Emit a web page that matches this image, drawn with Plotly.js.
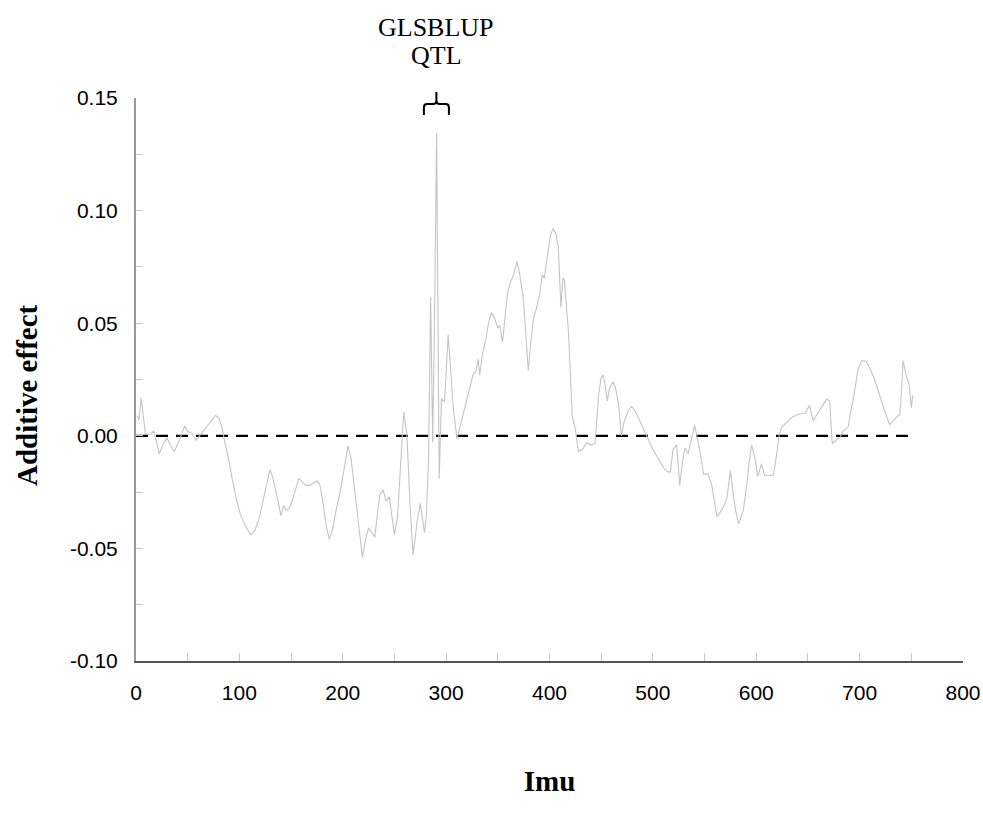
<!DOCTYPE html>
<html>
<head>
<meta charset="utf-8">
<script src="https://cdn.plot.ly/plotly-3.0.1.min.js"></script>
<style>html,body{margin:0;padding:0;background:#fff;}#chart{width:983px;height:827px;}</style>
</head>
<body>
<div id="chart"></div>
<script>
// Position along the chromosome (Imu) and additive effect
const imu = [1,3,5,7,9,13,17,20,22.5,26,30,33,37,42,47,50,54,58,63,68,73,77,80,83,86,89,93,97,101,106,111,115,119,123,127,129.5,132,135,138,140,143,145,148,151,154,157.5,160,164,168,172,175,178,181,184,187,190,194,198,202,205,208,211,214,217,219,222,225,228,231,234,236,239,242,245,248,250,253,256,259,262,265,268,270,272,275,277,279,281,283,285,287,289,290.8,292,293.3,295.5,298.5,302,304.5,307,310.5,313,316.5,320,323,326,329,331,332.5,335,338,341,344,347,350,352,354.5,357,359.5,362,365,368.5,371,374.5,377,379.5,382,384.5,387,390.5,393,395,398,401,403.5,406,408.5,411,413,414.5,418.5,420.5,422,425,428,432,436,440,444,445.5,447.5,450,452,454,456,458,461.5,464,467,469.5,472,476,479.5,484,489,494,500,505,510,514.5,517,519.5,523,526,528.5,531,534,537,540.5,543,546,549,553.5,557,559.5,562,566.5,569,571.5,575,577.5,580,583,587.5,591,593,595.5,598.5,601.5,605,608,612,616.5,619.5,622,624.5,629,634,638,642,647,651.5,655,660,664,668,671,673.5,677,681,684,687,689,691,694,698.5,702,706.5,710,714.5,718,721,725,729,734,739,740.5,742,745,748,750,751.5];
const effect = [0.009,0.007,0.017,0.010,0.001,0.0005,0.002,-0.003,-0.008,-0.004,-0.001,-0.004,-0.007,-0.002,0.0045,0.002,0.001,-0.002,0.001,0.004,0.007,0.009,0.008,0.004,-0.003,-0.009,-0.019,-0.028,-0.035,-0.040,-0.044,-0.042,-0.037,-0.028,-0.019,-0.015,-0.018,-0.024,-0.030,-0.0355,-0.031,-0.033,-0.0325,-0.029,-0.024,-0.019,-0.020,-0.022,-0.022,-0.021,-0.020,-0.022,-0.030,-0.040,-0.046,-0.042,-0.032,-0.024,-0.013,-0.0045,-0.010,-0.022,-0.035,-0.048,-0.054,-0.046,-0.041,-0.043,-0.045,-0.033,-0.026,-0.024,-0.029,-0.027,-0.036,-0.044,-0.036,-0.012,0.0105,0.001,-0.030,-0.053,-0.044,-0.038,-0.030,-0.036,-0.043,-0.035,-0.010,0.0615,-0.003,0.060,0.1345,0.060,-0.019,0.0165,0.015,0.045,0.030,0.012,-0.0015,0.003,0.009,0.016,0.022,0.027,0.029,0.034,0.027,0.036,0.042,0.050,0.0548,0.052,0.048,0.049,0.0415,0.052,0.0635,0.068,0.071,0.0775,0.072,0.062,0.045,0.029,0.042,0.052,0.056,0.063,0.0715,0.070,0.080,0.089,0.092,0.090,0.084,0.057,0.070,0.069,0.045,0.020,0.0085,0.003,-0.007,-0.006,-0.003,-0.004,-0.0035,0.005,0.018,0.026,0.027,0.022,0.0155,0.021,0.024,0.021,0.013,0.000,0.006,0.011,0.013,0.010,0.005,0.000,-0.006,-0.010,-0.014,-0.016,-0.016,-0.006,-0.004,-0.022,-0.012,-0.0055,-0.008,-0.002,0.0045,-0.001,-0.008,-0.017,-0.017,-0.022,-0.030,-0.036,-0.033,-0.031,-0.028,-0.0155,-0.025,-0.033,-0.039,-0.033,-0.021,-0.012,-0.004,-0.0095,-0.018,-0.0125,-0.0175,-0.0175,-0.0175,-0.009,0.000,0.0038,0.006,0.008,0.009,0.0097,0.010,0.0134,0.0067,0.0104,0.013,0.0163,0.0156,-0.0035,-0.002,-0.0007,0.002,0.003,0.004,0.010,0.0165,0.0297,0.0334,0.033,0.030,0.025,0.020,0.015,0.010,0.005,0.0075,0.0097,0.020,0.0334,0.027,0.0225,0.0125,0.018];
// Zero reference line
const refX = [0, 750];
const refY = [0, 0];
// Tick labels
const xTickVals = [0,100,200,300,400,500,600,700,800];
const yTickVals = [-0.10,-0.05,0.00,0.05,0.10,0.15];
const yTickText = ['-0.10','-0.05','0.00','0.05','0.10','0.15'];
// QTL bracket span (Imu)
const qtlSpan = [278.5, 290.6, 302.7];

const xr = [0, 800];
const px = v => (v - xr[0]) / (xr[1] - xr[0]);
const [qL, qC, qR] = qtlSpan.map(px);
const yb = 0.9698, yh = 0.9893, yt = 1.0107, c = 0.004;
const bracePath = `M ${qL} ${yb} L ${qL} ${yh - 0.006} Q ${qL} ${yh} ${qL + c} ${yh} L ${qC - c} ${yh} Q ${qC} ${yh} ${qC} ${yh + 0.006} L ${qC} ${yt} M ${qC} ${yh + 0.006} Q ${qC} ${yh} ${qC + c} ${yh} L ${qR - c} ${yh} Q ${qR} ${yh} ${qR} ${yh - 0.006} L ${qR} ${yb}`;

const traces = [
  {x: refX, y: refY, mode: 'lines', line: {color: '#000', width: 2.2, dash: '12px,8px'}, hoverinfo: 'skip', showlegend: false},
  {x: imu, y: effect, mode: 'lines', line: {color: '#c4c4c4', width: 1.1}, showlegend: false}
];

const tickFont = {family: 'Liberation Sans Narrow, Arial Narrow, Liberation Sans, sans-serif', size: 21, color: '#000'};
const serif = 'Liberation Serif, Times New Roman, serif';
const layout = {
  width: 983, height: 827,
  margin: {l: 136, r: 20, t: 98, b: 166},
  paper_bgcolor: '#fff', plot_bgcolor: '#fff',
  showlegend: false,
  xaxis: {
    range: xr, tickmode: 'array', tickvals: xTickVals,
    ticks: 'inside', ticklen: 8, tickcolor: '#c8c8c8', tickwidth: 1,
    minor: {dtick: 50, tick0: 0, ticks: 'inside', ticklen: 8, tickcolor: '#c8c8c8', showgrid: false},
    showline: true, linecolor: '#555', linewidth: 1.5,
    showgrid: false, zeroline: false, tickfont: tickFont, ticklabelstandoff: 12,
    title: {text: 'Imu', font: {family: serif, size: 29, color: '#000', weight: 'bold'}, standoff: 68}
  },
  yaxis: {
    range: [-0.1, 0.15], tickmode: 'array', tickvals: yTickVals, ticktext: yTickText,
    ticks: 'inside', ticklen: 7, tickcolor: '#c8c8c8', tickwidth: 1,
    minor: {dtick: 0.025, tick0: 0, ticks: 'inside', ticklen: 7, tickcolor: '#c8c8c8', showgrid: false},
    showline: true, linecolor: '#999', linewidth: 2,
    showgrid: false, zeroline: false, tickfont: tickFont, ticklabelstandoff: 12
  },
  shapes: [
    {type: 'path', xref: 'paper', yref: 'paper', path: bracePath, line: {color: '#000', width: 2}}
  ],
  annotations: [
    {xref: 'paper', yref: 'paper', x: -0.1318, y: 0.4725, xanchor: 'center', yanchor: 'middle', showarrow: false,
     textangle: -90, text: 'Additive effect', font: {family: serif, size: 29, color: '#000', weight: 'bold'}},
    {xref: 'paper', yref: 'paper', x: qC, y: 1.126, xanchor: 'center', yanchor: 'middle', showarrow: false,
     text: 'GLSBLUP', font: {family: serif, size: 26, color: '#000'}},
    {xref: 'paper', yref: 'paper', x: qC, y: 1.076, xanchor: 'center', yanchor: 'middle', showarrow: false,
     text: 'QTL', font: {family: serif, size: 26, color: '#000'}}
  ]
};

Plotly.newPlot('chart', traces, layout, {displayModeBar: false, staticPlot: true});
</script>
</body>
</html>
